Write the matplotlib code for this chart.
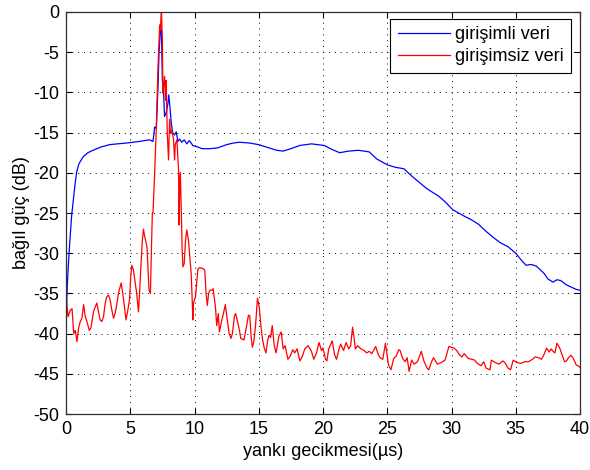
import matplotlib
matplotlib.use("Agg")
import matplotlib.pyplot as plt
import numpy as np

# ---- data ----
blue_x = [0, 0.05, 0.1, 0.2, 0.3, 0.44, 0.57, 0.7, 0.83, 1.0, 1.34, 1.7, 2.1, 2.7, 3.4, 4.0, 4.7, 5.2,
          5.7, 6.1, 6.5, 6.77, 6.9, 7.03, 7.16, 7.24, 7.33, 7.42, 7.5, 7.58, 7.67, 7.8, 7.93, 8.0, 8.1,
          8.19, 8.3, 8.45, 8.58, 8.71, 8.85, 9.0, 9.2, 9.4, 9.6, 9.87, 10.26, 10.6, 11.2, 11.8, 12.5,
          13.0, 13.5, 14.3, 15.0, 15.8, 16.4, 16.9, 17.5, 18.2, 19.1, 20.1, 20.7, 21.3, 22.0, 22.75,
          23.6, 24.2, 25.0, 25.6, 26.3, 26.9, 27.5, 28.1, 29.0, 29.5, 30.1, 31.0, 31.5, 32.1, 32.7,
          33.3, 33.8, 34.4, 35.0, 35.4, 35.8, 36.2, 36.6, 37.2, 37.5, 37.9, 38.2, 38.5, 38.9, 39.3,
          39.7, 40.0]
blue_y = [-38.5, -36.5, -34, -31, -28.5, -25.3, -23.4, -21.5, -19.9, -18.9, -18.0, -17.5, -17.2, -16.8,
          -16.5, -16.4, -16.3, -16.2, -16.1, -16.0, -15.9, -16.1, -14.3, -14.5, -9.3, -5.1, -2.5, -2.2,
          -8.5, -9.5, -13.0, -12.5, -11.4, -10.3, -12.0, -13.8, -15.0, -15.3, -14.9, -16.1, -15.8, -16.2,
          -15.9, -16.4, -16.0, -16.6, -16.8, -17.0, -17.0, -16.9, -16.5, -16.3, -16.2, -16.3, -16.5,
          -16.9, -17.2, -17.3, -17.0, -16.6, -16.4, -16.6, -17.1, -17.5, -17.3, -17.2, -17.4, -18.3,
          -19.0, -19.3, -19.5, -20.4, -21.2, -22.0, -22.9, -23.6, -24.6, -25.4, -25.8, -26.4, -27.3,
          -28.1, -28.7, -29.2, -30.0, -30.8, -31.5, -31.4, -31.6, -32.5, -33.2, -33.6, -33.3, -33.4,
          -33.9, -34.2, -34.5, -34.6]

red_x = [0.0, 0.03, 0.16, 0.33, 0.47, 0.6, 0.72, 0.85, 0.98, 1.11, 1.24, 1.37, 1.5, 1.63, 1.81, 1.94,
         2.14, 2.27, 2.4, 2.53, 2.66, 2.79, 2.92, 3.05, 3.18, 3.31, 3.43, 3.57, 3.7, 3.82, 3.95, 4.08,
         4.21, 4.29, 4.42, 4.55, 4.67, 4.81, 4.94, 5.04, 5.12, 5.25, 5.37, 5.5, 5.64, 5.74, 5.84, 5.94,
         6.03, 6.12, 6.3, 6.46, 6.57, 6.64, 6.72, 6.77, 6.9, 7.03, 7.16, 7.29, 7.35, 7.42, 7.5, 7.54,
         7.62, 7.67, 7.75, 7.8, 7.88, 7.98, 8.06, 8.13, 8.24, 8.37, 8.45, 8.5, 8.63, 8.76, 8.8, 8.85,
         8.9, 8.97, 9.04, 9.1, 9.2, 9.3, 9.4, 9.53, 9.61, 9.74, 9.82, 9.87, 9.92, 10.08, 10.26, 10.39,
         10.65, 10.8, 10.9, 11.0, 11.1, 11.2, 11.37, 11.45, 11.63, 11.73, 11.85, 11.94, 12.1, 12.25,
         12.4, 12.55, 12.7, 12.84, 12.95, 13.1, 13.2, 13.35, 13.5, 13.6, 13.75, 13.85, 14.05, 14.2,
         14.3, 14.4, 14.5, 14.62, 14.75, 14.9, 15.04, 15.17, 15.3, 15.43, 15.56, 15.7, 15.8, 15.92,
         16.05, 16.2, 16.35, 16.5, 16.57, 16.75, 16.9, 17.05, 17.27, 17.45, 17.65, 17.8, 17.98, 18.2,
         18.4, 18.58, 18.84, 19.1, 19.28, 19.5, 19.69, 19.88, 20.0, 20.2, 20.3, 20.45, 20.72, 20.9,
         21.05, 21.25, 21.37, 21.6, 21.8, 22.0, 22.15, 22.3, 22.4, 22.52, 22.7, 22.95, 23.2, 23.4,
         23.6, 23.8, 24.1, 24.3, 24.45, 24.65, 24.86, 25.1, 25.29, 25.5, 25.7, 25.9, 26.0, 26.2, 26.4,
         26.55, 26.7, 26.9, 27.1, 27.35, 27.65, 27.85, 28.1, 28.23, 28.45, 28.6, 28.9, 29.2, 29.5,
         29.8, 30.0, 30.2, 30.4, 30.6, 30.8, 31.0, 31.3, 31.6, 31.8, 32.0, 32.3, 32.5, 32.7, 33.0,
         33.1, 33.4, 33.7, 34.0, 34.2, 34.4, 34.6, 34.8, 35.1, 35.4, 35.7, 36.0, 36.3, 36.5, 36.8,
         37.0, 37.2, 37.4, 37.6, 37.75, 37.9, 38.05, 38.2, 38.4, 38.6, 38.8, 38.95, 39.1, 39.3, 39.45,
         39.6, 39.7, 39.85, 40.0]
red_y = [-38.5, -35.8, -37.9, -37.1, -36.9, -40.0, -39.6, -41.0, -39.3, -38.5, -38.1, -36.4, -37.9,
         -38.5, -39.6, -39.3, -37.3, -36.7, -36.2, -37.3, -38.3, -38.5, -37.9, -36.2, -35.4, -35.2,
         -35.8, -37.1, -38.1, -37.5, -36.4, -35.0, -34.2, -33.7, -35.0, -36.7, -38.3, -37.1, -35.8,
         -32.9, -31.5, -32.1, -33.5, -35.0, -37.3, -34.5, -31.3, -28.4, -27.0, -27.9, -29.2, -34.6,
         -35.0, -30.0, -25.0, -25.0, -20.0, -14.3, -6.8, -1.6, -2.3, 0.5, -3.5, -10.1, -9.0, -8.0,
         -11.0, -8.5, -15.1, -18.4, -13.4, -15.1, -14.7, -15.9, -18.4, -16.5, -15.9, -19.7, -26.5,
         -21.5, -20.0, -24.5, -29.6, -31.7, -31.3, -28.4, -27.1, -28.4, -30.0, -32.5, -35.8, -38.3,
         -36.2, -35.4, -32.0, -31.8, -31.9, -32.1, -35.0, -36.5, -35.0, -34.6, -34.6, -34.4, -36.7,
         -39.0, -37.5, -39.8, -38.5, -37.5, -36.4, -38.3, -40.0, -40.6, -40.0, -37.9, -37.5, -38.5,
         -39.6, -40.6, -40.7, -40.8, -39.1, -37.7, -37.8, -40.2, -41.7, -41.0, -39.0, -35.6, -36.7,
         -39.1, -40.8, -41.8, -42.4, -40.8, -40.2, -40.5, -39.0, -41.4, -42.4, -41.0, -40.3, -39.8,
         -41.9, -41.5, -43.2, -42.8, -42.0, -42.4, -41.9, -43.4, -42.8, -41.9, -41.5, -42.2, -43.2,
         -42.4, -41.1, -42.1, -41.8, -43.2, -43.4, -41.9, -40.9, -42.6, -43.2, -41.9, -41.3, -42.1,
         -41.1, -41.9, -41.5, -39.2, -40.3, -41.9, -41.5, -41.9, -42.1, -42.4, -42.2, -42.5, -41.6,
         -42.6, -43.0, -43.2, -41.2, -43.9, -44.5, -43.1, -42.8, -42.0, -42.1, -43.1, -43.5, -43.0,
         -44.7, -43.3, -43.8, -43.5, -42.2, -43.4, -44.3, -44.5, -43.5, -43.0, -43.8, -43.6, -43.3,
         -41.6, -41.7, -41.8, -42.1, -42.6, -42.9, -42.5, -43.1, -43.2, -43.3, -43.7, -44.0, -43.5,
         -44.3, -44.5, -43.3, -43.6, -43.8, -43.4, -43.7, -44.3, -44.5, -43.3, -43.6, -43.7, -43.5,
         -43.5, -43.2, -42.9, -43.0, -43.2, -42.6, -41.8, -42.3, -41.9, -42.2, -42.4, -41.2, -41.7,
         -42.6, -43.5, -43.4, -43.0, -42.7, -43.0, -43.5, -43.9, -44.0, -44.2]

series_labels = ["girişimli veri", "girişimsiz veri"]
x_ticks = [0, 5, 10, 15, 20, 25, 30, 35, 40]
y_ticks = [0, -5, -10, -15, -20, -25, -30, -35, -40, -45, -50]
x_label = "yankı gecikmesi(µs)"
y_label = "bağıl güç (dB)"

# ---- figure ----
plt.rcParams['font.family'] = ['Liberation Sans', 'DejaVu Sans']
plt.rcParams['axes.unicode_minus'] = False
fig = plt.figure(figsize=(5.9, 4.7), dpi=100)
ax = fig.add_axes([66/590, 56/470, 514/590, 402/470])

ax.plot(blue_x, blue_y, color='#0000ff', lw=0.9, label=series_labels[0])
ax.plot(red_x, red_y, color='#ff0000', lw=0.9, label=series_labels[1])

ax.set_xlim(0, 40)
ax.set_ylim(-50, 0)
ax.set_xticks(x_ticks)
ax.set_yticks(y_ticks)
ax.tick_params(direction='in', top=True, right=True, length=4, width=0.8,
               labelsize=13, colors='black')
ax.tick_params(axis='x', pad=5)
ax.tick_params(axis='y', pad=5)
ax.grid(True, color='black', linestyle=(0, (1, 5)), linewidth=0.7)
for s in ax.spines.values():
    s.set_linewidth(0.9)
    s.set_color('#303030')

ax.set_xlabel(x_label, fontsize=13, labelpad=4)
ax.set_ylabel(y_label, fontsize=13, labelpad=2)

leg = ax.legend(loc='upper right', bbox_to_anchor=(0.983, 0.983), borderaxespad=0,
                fontsize=13, handlelength=2.9, handletextpad=0.3, fancybox=False,
                framealpha=1, edgecolor='black', borderpad=0.4, labelspacing=0.3)
leg.get_frame().set_linewidth(0.8)

fig.savefig("out.png", dpi=100)
